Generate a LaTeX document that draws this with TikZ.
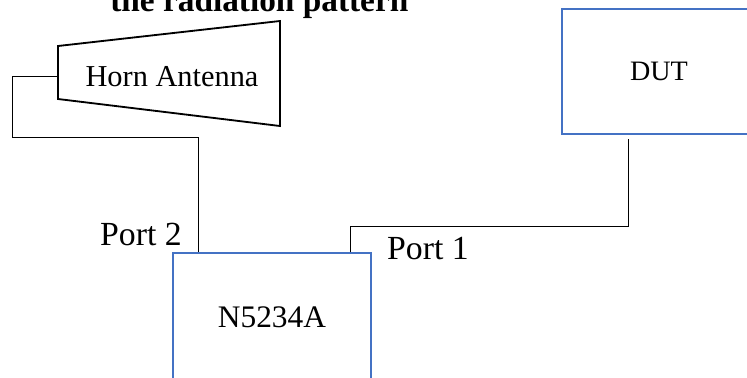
\documentclass[tikz,border=0pt]{standalone}
\usepackage{fontspec}
\setmainfont{Liberation Serif}
\usetikzlibrary{positioning}
\definecolor{boxblue}{RGB}{68,114,196}

\tikzset{
  unitbox/.style={draw=boxblue, line width=1pt, inner sep=0pt},
  wire/.style={draw, line width=0.7pt},
  portlbl/.style={inner sep=0pt, font=\fontsize{24}{28}\selectfont},
}

\begin{document}
\begin{tikzpicture}[x=0.025cm, y=-0.025cm]
            \useasboundingbox (0,0) rectangle (747,377);
            % title (cut off at the top)
            \node[anchor=base west, inner sep=0pt, font=\fontsize{23.7}{28}\selectfont\bfseries] (title) at (110,11) {the radiation pattern};

            % horn antenna
            \coordinate (hornA) at (58,46);
            \coordinate (hornB) at (280,21);
            \coordinate (hornC) at (280,126);
            \coordinate (hornD) at (58,99);
            \draw[line width=1.3pt] (hornA) -- (hornB) -- (hornC) -- (hornD) -- cycle;
            \node[inner sep=0pt, font=\fontsize{21.6}{26}\selectfont] (horn) at (172,77) {Horn Antenna};
            \coordinate (hornfeed) at (58,76);

            % instruments
            \node[unitbox, minimum width=4.85cm, minimum height=3.125cm, font=\fontsize{20}{24}\selectfont] (dut) at (659,71.5) {DUT};
            \node[unitbox, minimum width=4.95cm, minimum height=3.2cm, font=\fontsize{22.3}{26}\selectfont] (vna) at (272,317) {N5234A};

            \coordinate (p2) at ([xshift=0.65cm]vna.north west);
            \coordinate (p1) at ([xshift=-0.525cm]vna.north east);
            \coordinate (dutport) at ([xshift=-0.775cm, yshift=-0.1cm]dut.south);

            % cables
            \draw[wire] (hornfeed) -- ++(-46,0) -- ++(0,61) -| (p2);
            \draw[wire] (p1) -- ++(0,-26) -| (dutport);

            \node[portlbl] (lblb) at (141,234) {Port 2};
            \node[portlbl] (lbla) at (428,248.5) {Port 1};
        \end{tikzpicture}
\end{document}
